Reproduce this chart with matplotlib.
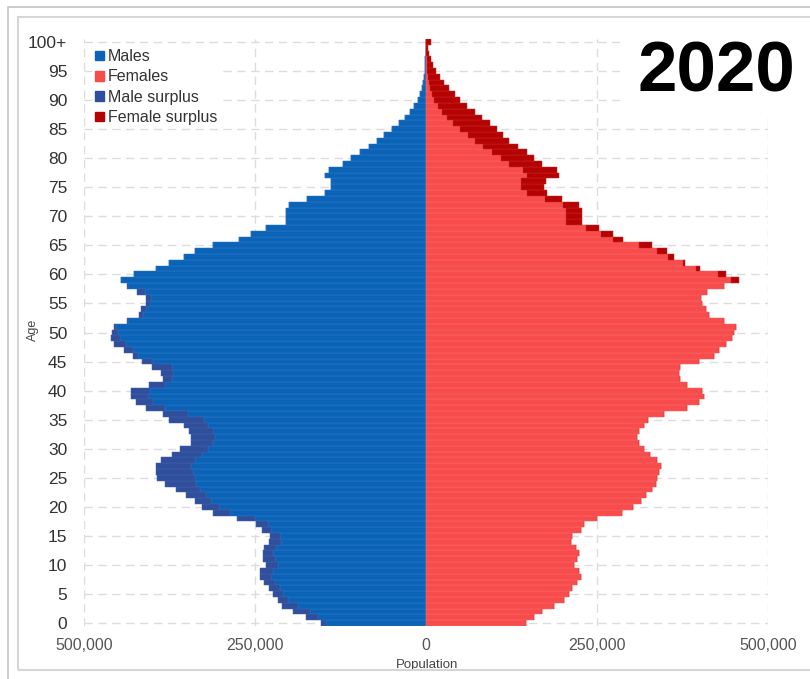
import numpy as np
import matplotlib
matplotlib.use("Agg")
import matplotlib.pyplot as plt
from matplotlib.patches import Patch, Rectangle

plt.rcParams["font.family"] = ["Liberation Sans", "DejaVu Sans"]

# population by single year of age (thousands), ages 0..100+
ages = list(range(101))
age_labels = [str(a) for a in range(0, 100, 5)] + ["100+"]

males = [
    154, 176, 195, 210, 217, 224, 230, 237, 242, 242,   # 0-9
    234, 239, 239, 237, 230, 228, 240, 249, 276, 312,   # 10-19
    327, 337, 351, 366, 381, 393, 395, 395, 388, 371,   # 20-29
    359, 344, 344, 346, 354, 376, 385, 410, 424, 432,   # 30-39
    432, 405, 385, 388, 400, 415, 429, 442, 456, 461,   # 40-49
    459, 456, 437, 420, 417, 410, 410, 422, 437, 446,   # 50-59
    427, 395, 376, 354, 337, 312, 273, 256, 234, 205,   # 60-69
    205, 205, 200, 174, 148, 139, 139, 147, 142, 122,   # 70-79
    110, 96, 84, 72, 61, 50, 40, 31, 24, 17,            # 80-89
    12, 9, 6, 4, 2.5, 1.8, 1.2, 0.8, 0.5, 0.3,          # 90-99
    0.5,                                                # 100+
]
females = [
    146, 158, 170, 187, 202, 209, 214, 221, 226, 223,
    216, 221, 224, 219, 212, 214, 226, 231, 250, 287,
    302, 314, 321, 331, 336, 338, 341, 343, 338, 328,
    319, 311, 309, 311, 319, 324, 348, 382, 399, 406,
    404, 382, 372, 370, 372, 399, 421, 428, 438, 448,
    450, 453, 436, 414, 409, 404, 402, 411, 436, 457,
    438, 401, 378, 363, 353, 331, 288, 273, 253, 228,
    228, 228, 224, 199, 177, 172, 176, 194, 192, 170,
    158, 148, 134, 122, 112, 104, 93, 82, 71, 60,
    50, 42, 34, 26, 20, 14, 10, 7, 5, 3,
    7,
]

MALE = "#0b63b7"
MALE_SUR = "#2f4f9c"
FEMALE = "#f84b4b"
FEMALE_SUR = "#b50303"

m = np.array(males) * 1000
f = np.array(females) * 1000
common = np.minimum(m, f)
m_sur = np.clip(m - f, 0, None)
f_sur = np.clip(f - m, 0, None)

fig = plt.figure(figsize=(8.10, 6.79), dpi=100)
ax = fig.add_axes([84 / 810, 1 - 626 / 679, (768 - 84) / 810, (626 - 39) / 679])

# full-height bars, a thin lighter edge gives the faint row stripes
h = 1.0
lw = 0.35
ax.barh(ages, -common, height=h, color=MALE, edgecolor="#2c78c6", linewidth=lw, zorder=3)
ax.barh(ages, -m_sur, left=-common, height=h, color=MALE_SUR, edgecolor="#4662a8",
        linewidth=lw, zorder=3)
ax.barh(ages, common, height=h, color=FEMALE, edgecolor="#fa6a6a", linewidth=lw, zorder=3)
ax.barh(ages, f_sur, left=common, height=h, color=FEMALE_SUR, edgecolor="#c42424",
        linewidth=lw, zorder=3)

ax.set_xlim(-500000, 500000)
ax.set_ylim(-0.5, 100.5)

xt = [-500000, -250000, 0, 250000, 500000]
ax.set_xticks(xt)
ax.set_xticklabels([f"{abs(v):,}" for v in xt], fontsize=11.5, color="#555555")
ax.set_yticks(list(range(0, 101, 5)))
ax.set_yticklabels(age_labels, fontsize=12.5, color="#333333")
ax.tick_params(axis="both", length=0)
ax.tick_params(axis="y", pad=12)
ax.tick_params(axis="x", pad=9)

for s in ax.spines.values():
    s.set_visible(False)
ax.grid(True, color="#dcdcdc", linestyle=(0, (6, 4)), linewidth=1, zorder=0)
ax.set_axisbelow(True)

fig.text(427 / 810, 1 - 665 / 679, "Population", ha="center", va="center",
         fontsize=9.5, color="#444444")
fig.text(33 / 810, 1 - 330 / 679, "Age", ha="center", va="center",
         rotation=90, fontsize=9, color="#444444")

handles = [
    Patch(color=MALE, label="Males"),
    Patch(color=FEMALE, label="Females"),
    Patch(color=MALE_SUR, label="Male surplus"),
    Patch(color=FEMALE_SUR, label="Female surplus"),
]
leg = ax.legend(handles=handles, loc="upper left", bbox_to_anchor=(92 / 810, 1 - 46 / 679),
                bbox_transform=fig.transFigure, frameon=True, fontsize=11.5,
                handlelength=0.55, handleheight=0.55, handletextpad=0.25,
                labelspacing=0.33, borderpad=0.2, borderaxespad=0, framealpha=1)
leg.get_frame().set_edgecolor("none")
leg.get_frame().set_facecolor("white")
leg.set_zorder(5)
for t in leg.get_texts():
    t.set_color("#333333")

# white area behind the year so the grid does not show through it
fig.patches.append(Rectangle((620 / 810, 1 - 115 / 679), 190 / 810, 85 / 679,
                             transform=fig.transFigure, facecolor="white",
                             edgecolor="none", zorder=2))
fig.text(716 / 810, 1 - 73 / 679, "2020", ha="center", va="center",
         fontsize=51, fontweight="bold", color="black", zorder=3)

# double frame round the picture
fig.patches.append(Rectangle((8 / 810, 1 - 690 / 679), 820 / 810, 683 / 679,
                             transform=fig.transFigure, fill=False,
                             edgecolor="#c4c4c4", linewidth=1.2, zorder=4))
fig.patches.append(Rectangle((18 / 810, 1 - 670 / 679), 810 / 810, 653 / 679,
                             transform=fig.transFigure, fill=False,
                             edgecolor="#d6d6d6", linewidth=1.5, zorder=4))

fig.savefig("out.png", dpi=100)
